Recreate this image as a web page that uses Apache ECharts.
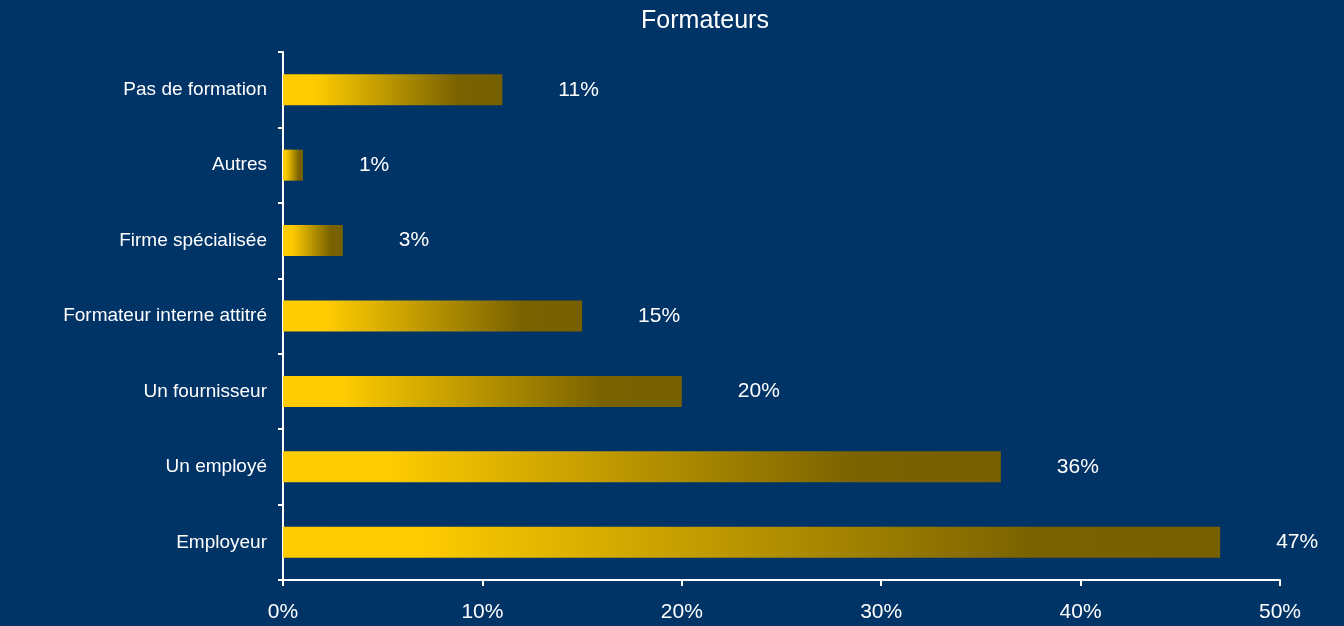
<!DOCTYPE html>
<html>
<head>
<meta charset="utf-8">
<script src="https://cdn.jsdelivr.net/npm/echarts@6/dist/echarts.min.js"></script>
<style>
  html, body { margin: 0; padding: 0; background: #003366; }
  #chart { width: 1344px; height: 626px; }
</style>
</head>
<body>
<div id="chart"></div>
<script>
// Who delivers the training (share of respondents, %)
const categories = [
  'Employeur',
  'Un employé',
  'Un fournisseur',
  'Formateur interne attitré',
  'Firme spécialisée',
  'Autres',
  'Pas de formation'
];
const shares = [47, 36, 20, 15, 3, 1, 11];
const chartTitle = 'Formateurs';

const font = '"Liberation Sans", Arial, sans-serif';

const barGradient = new echarts.graphic.LinearGradient(0, 0, 1, 0, [
  { offset: 0, color: '#FFCC00' },
  { offset: 0.15, color: '#FDCB00' },
  { offset: 0.8, color: '#7A6200' },
  { offset: 1, color: '#766000' }
]);

const chart = echarts.init(document.getElementById('chart'), null, { renderer: 'canvas' });
chart.setOption({
  backgroundColor: '#003366',
  animation: false,
  title: {
    text: chartTitle,
    left: 700,
    top: 4,
    textAlign: 'center',
    textStyle: { color: '#ffffff', fontFamily: font, fontSize: 25, fontWeight: 'normal' }
  },
  grid: { left: 283, right: 64, top: 52, bottom: 46, containLabel: false },
  xAxis: {
    type: 'value',
    min: 0,
    max: 50,
    interval: 10,
    axisLine: { show: true, lineStyle: { color: '#ffffff', width: 2 } },
    axisTick: { show: true, length: 6, lineStyle: { color: '#ffffff', width: 2 } },
    splitLine: { show: false },
    axisLabel: {
      color: '#ffffff',
      fontFamily: font,
      fontSize: 21,
      margin: 22,
      formatter: v => v + '%'
    }
  },
  yAxis: {
    type: 'category',
    data: categories,
    axisLine: { show: true, lineStyle: { color: '#ffffff', width: 2 } },
    axisTick: { show: true, length: 5, lineStyle: { color: '#ffffff', width: 2 } },
    axisLabel: {
      color: '#ffffff',
      fontFamily: font,
      fontSize: 19,
      margin: 16
    }
  },
  series: [{
    type: 'bar',
    data: shares,
    barWidth: 31,
    itemStyle: { color: barGradient },
    label: {
      show: true,
      position: 'right',
      distance: 56,
      color: '#ffffff',
      fontFamily: font,
      fontSize: 21,
      formatter: p => p.value + '%'
    }
  }]
});
</script>
</body>
</html>
